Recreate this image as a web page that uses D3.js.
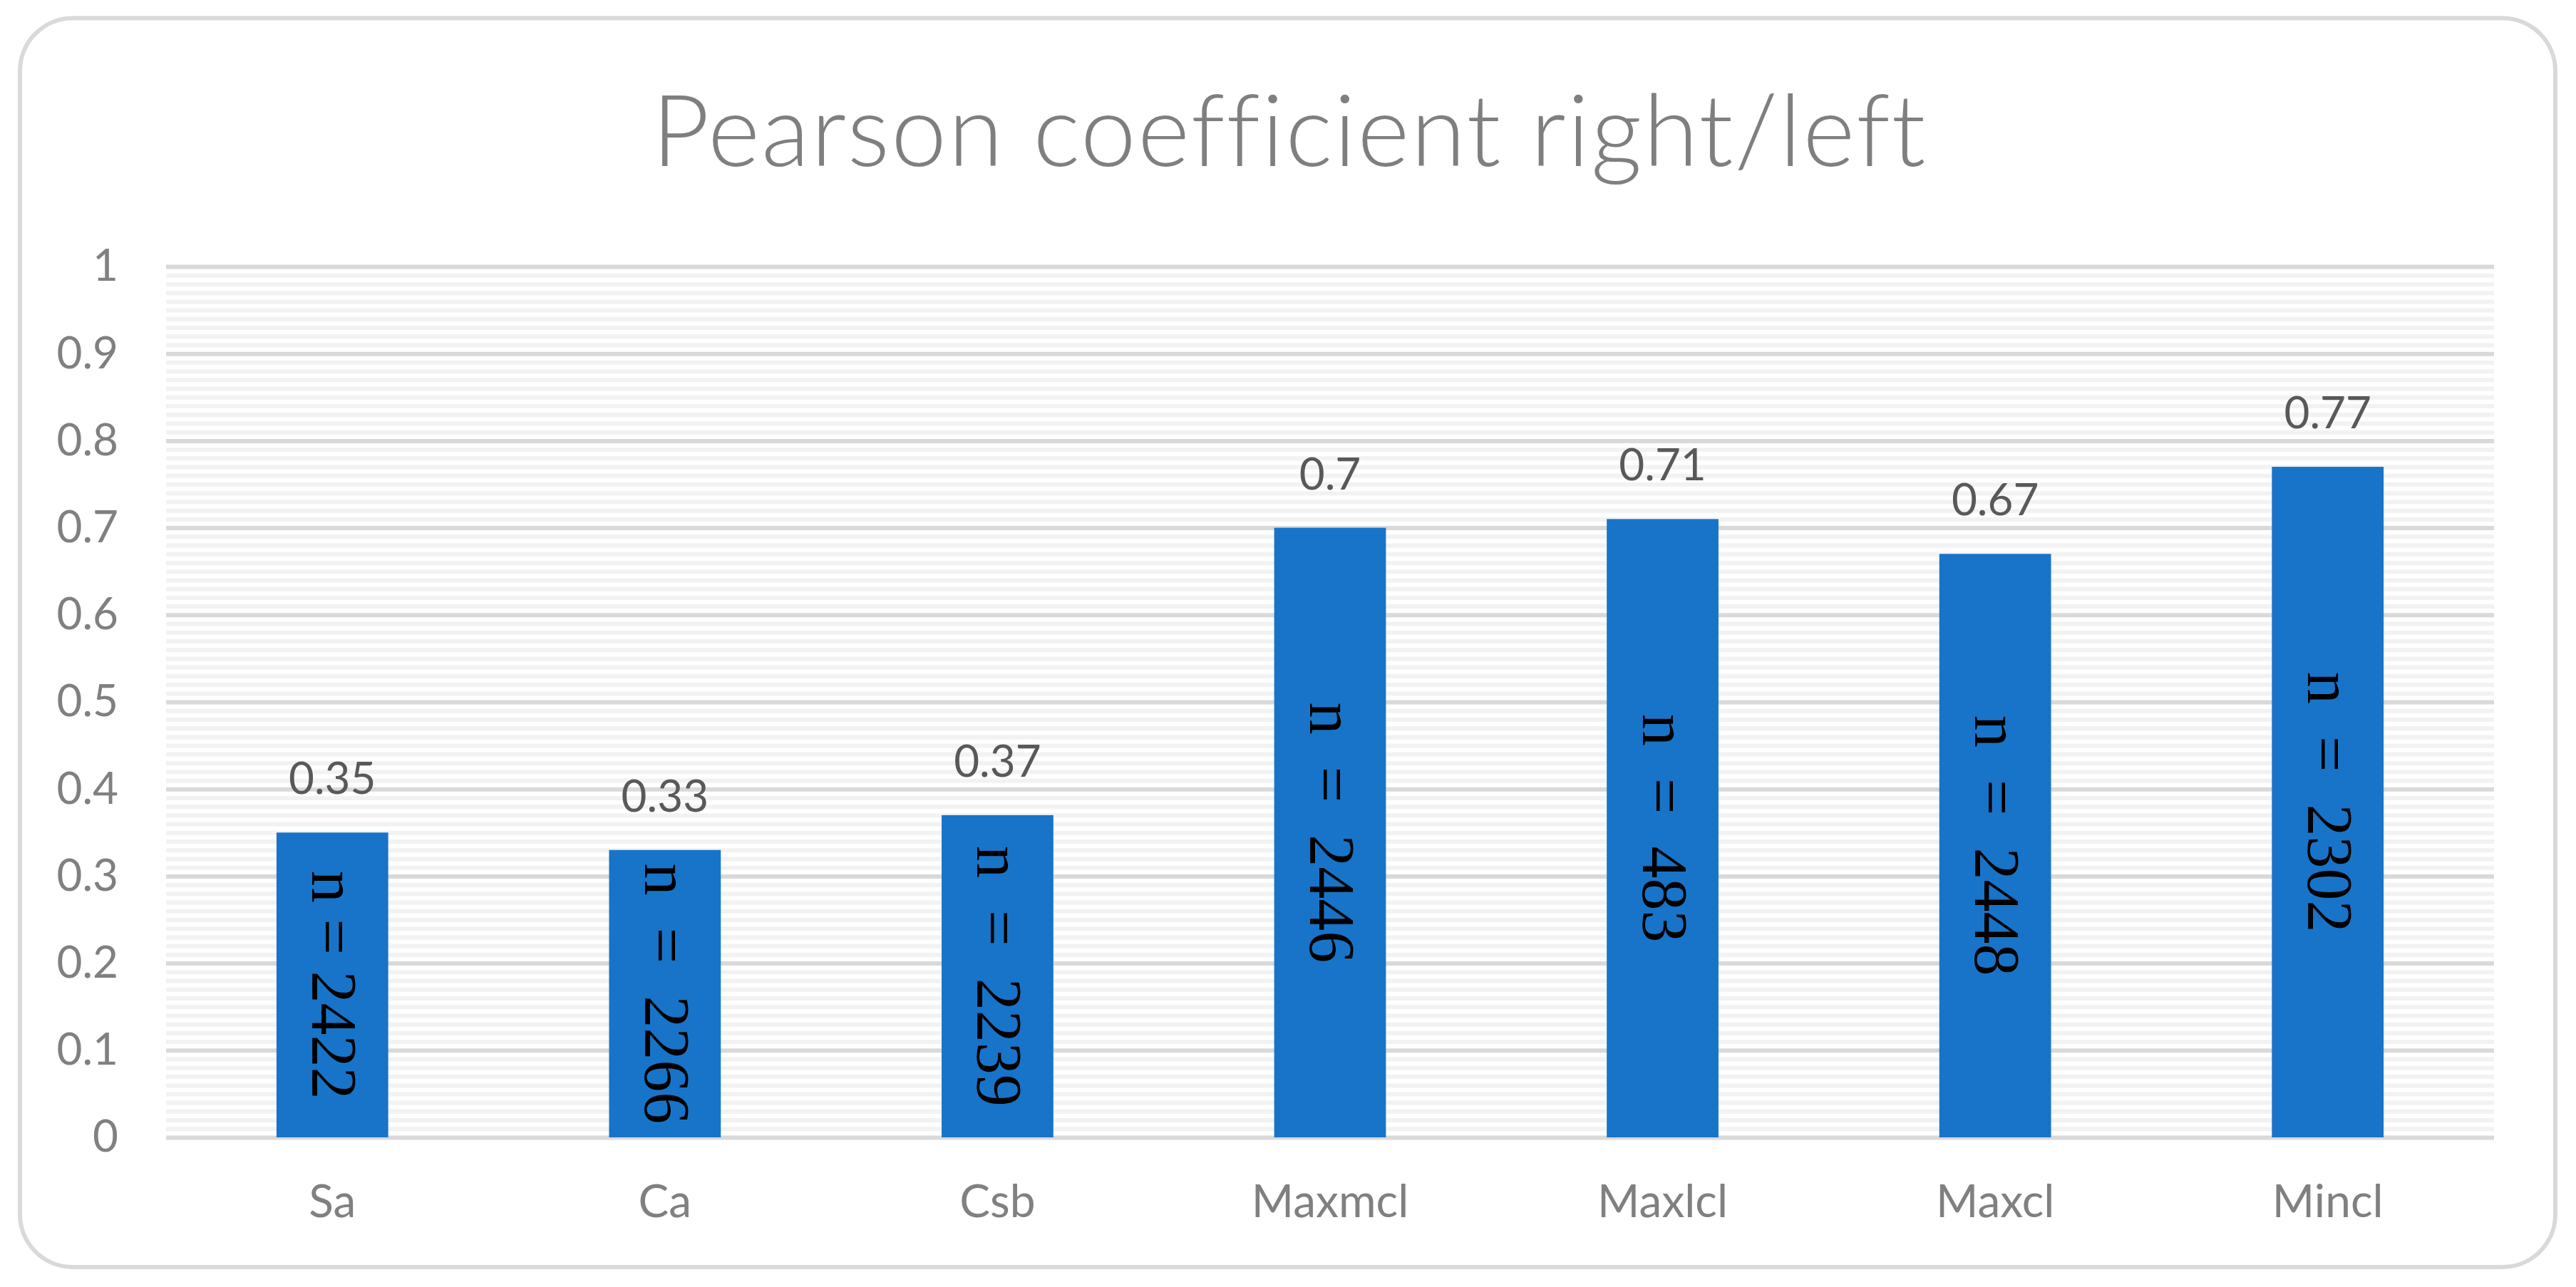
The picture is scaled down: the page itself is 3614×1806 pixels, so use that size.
<!DOCTYPE html>
<html lang="en">
<head>
<meta charset="utf-8">
<script src="https://d3js.org/d3.v7.min.js"></script>
<style>
  body { margin: 0; background: #fff; }
  text { font-family: Lato, "Open Sans", sans-serif; }
</style>
</head>
<body>
<script>
// values
const categories = ["Sa", "Ca", "Csb", "Maxmcl", "Maxlcl", "Maxcl", "Mincl"];
const pearson = [0.35, 0.33, 0.37, 0.7, 0.71, 0.67, 0.77];
const valueLabels = ["0.35", "0.33", "0.37", "0.7", "0.71", "0.67", "0.77"];
const sampleLabels = ["n = 2422", "n  =  2266", "n  =  2239", "n  =  2446", "n  =  483", "n  =  2448", "n  =  2302"];
const yTicks = [0, 0.1, 0.2, 0.3, 0.4, 0.5, 0.6, 0.7, 0.8, 0.9, 1];
const yTickLabels = ["0", "0.1", "0.2", "0.3", "0.4", "0.5", "0.6", "0.7", "0.8", "0.9", "1"];

const W = 3614, H = 1806;
const margin = {top: 374, right: 115, bottom: 210, left: 233};
const width = W - margin.left - margin.right;
const height = H - margin.top - margin.bottom;

const svg = d3.select("body").append("svg")
  .attr("width", W)
  .attr("height", H);

// rounded chart frame
svg.append("rect")
  .attr("x", 28).attr("y", 25.5)
  .attr("width", 3557).attr("height", 1752.5)
  .attr("rx", 74).attr("ry", 74)
  .attr("fill", "#fff")
  .attr("stroke", "#d9d9d9")
  .attr("stroke-width", 6);

svg.append("text")
  .attr("x", 1809).attr("y", 233)
  .attr("text-anchor", "middle")
  .attr("font-size", 140)
  .attr("font-weight", 300)
  .attr("letter-spacing", 2)
  .attr("fill", "#7f7f7f")
  .text("Pearson coefficient right/left");

const g = svg.append("g")
  .attr("transform", "translate(" + margin.left + "," + margin.top + ")");

const x = d3.scaleBand()
  .domain(categories)
  .range([0, width])
  .paddingInner(0.664)
  .paddingOuter(0.332);

const y = d3.scaleLinear()
  .domain([0, 1])
  .range([height, 0]);

// minor gridlines every 0.01
const minorTicks = d3.range(0, 101).filter(i => i % 10 != 0).map(i => i / 100);
g.append("g")
  .call(d3.axisLeft(y).tickValues(minorTicks).tickSize(-width).tickFormat(""))
  .call(a => a.select(".domain").remove())
  .selectAll("line")
  .attr("stroke", "#f2f2f2")
  .attr("stroke-width", 6);

// major gridlines
g.append("g")
  .call(d3.axisLeft(y).tickValues(yTicks).tickSize(-width).tickFormat(""))
  .call(a => a.select(".domain").remove())
  .selectAll("line")
  .attr("stroke", "#d9d9d9")
  .attr("stroke-width", 6);

// y labels
g.append("g")
  .call(d3.axisLeft(y).tickValues(yTicks).tickSize(0).tickPadding(67)
    .tickFormat((d, i) => yTickLabels[i]))
  .call(a => a.select(".domain").remove())
  .selectAll("text")
  .attr("font-family", "Lato, 'Open Sans', sans-serif")
  .attr("font-size", 62)
  .attr("fill", "#808080");

// x labels
g.append("g")
  .attr("transform", "translate(0," + height + ")")
  .call(d3.axisBottom(x).tickSize(0).tickPadding(67))
  .call(a => a.select(".domain").remove())
  .selectAll("text")
  .attr("font-family", "Lato, 'Open Sans', sans-serif")
  .attr("font-size", 64)
  .attr("fill", "#808080");

// bars
g.selectAll(".bar")
  .data(pearson)
  .enter()
  .append("rect")
  .attr("class", "bar")
  .attr("x", (d, i) => x(categories[i]))
  .attr("y", d => y(d))
  .attr("width", x.bandwidth())
  .attr("height", d => height - y(d))
  .attr("fill", "#1874c8");

// value labels above bars
g.selectAll(".val")
  .data(pearson)
  .enter()
  .append("text")
  .attr("class", "val")
  .attr("x", (d, i) => x(categories[i]) + x.bandwidth() / 2)
  .attr("y", d => y(d) - 54)
  .attr("text-anchor", "middle")
  .attr("font-size", 62)
  .attr("fill", "#595959")
  .text((d, i) => valueLabels[i]);

// rotated sample size labels inside bars
g.selectAll(".nlab")
  .data(pearson)
  .enter()
  .append("text")
  .attr("class", "nlab")
  .attr("transform", (d, i) => "translate(" + (x(categories[i]) + x.bandwidth() / 2) + "," + y(d / 2) + ") rotate(90)")
  .attr("y", 28)
  .attr("text-anchor", "middle")
  .style("font-family", "'Liberation Serif', 'Times New Roman', serif")
  .style("white-space", "pre")
  .attr("font-size", 90)
  .attr("fill", "#000")
  .text((d, i) => sampleLabels[i]);
</script>
</body>
</html>
